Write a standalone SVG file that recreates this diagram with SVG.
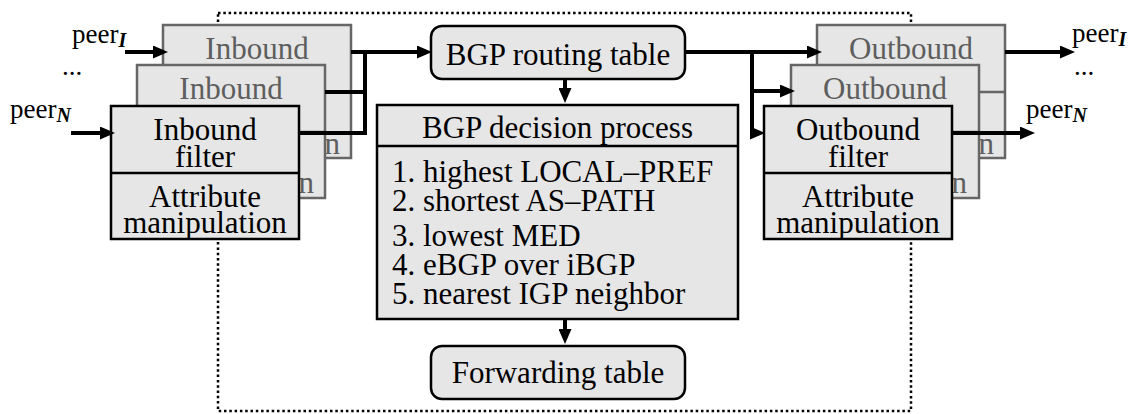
<svg xmlns="http://www.w3.org/2000/svg" width="1135" height="414" viewBox="0 0 1135 414">
<style>
.t{font-family:"Liberation Serif","Times New Roman",serif;font-size:31px;fill:#000}
.c{text-anchor:middle}
.e{text-anchor:end}
.g{fill:#5e5e5e}
.box{fill:#e6e6e6;stroke:#000;stroke-width:2.5}
.back{fill:#e6e6e6;stroke:#666;stroke-width:2.5}
.div{stroke:#000;stroke-width:2.5}
.divg{stroke:#666;stroke-width:2.5}
.conn{stroke:#000;stroke-width:4;fill:none}
.dot{stroke:#000;stroke-width:2.5;stroke-dasharray:2.5 2.8;fill:none}
.lbl{font-family:"Liberation Serif","Times New Roman",serif;font-size:27px;fill:#000}
.sub{font-size:20px;font-weight:bold;font-style:italic}
</style>
<defs>
<marker id="ah" markerUnits="userSpaceOnUse" markerWidth="15" markerHeight="13" refX="5" refY="6.5" orient="auto">
<path d="M0,0 L15,6.5 L0,13 z" fill="#000"/>
</marker>
</defs>
<rect class="dot" x="218" y="13" width="693" height="398"/>

<g id="in1">
<rect class="back" x="163" y="25" width="188" height="133"/>
<line class="divg" x1="163" y1="92" x2="351" y2="92"/>
<text class="t c g" x="257" y="59">Inbound</text>
<text class="t e g" x="340" y="154">n</text>
</g>
<g id="in2">
<rect class="back" x="137" y="65" width="188" height="133"/>
<line class="divg" x1="137" y1="132" x2="325" y2="132"/>
<text class="t c g" x="231" y="99">Inbound</text>
<text class="t e g" x="314" y="193">n</text>
</g>
<g id="in3">
<rect class="box" x="111" y="106" width="188" height="133"/>
<line class="div" x1="111" y1="173" x2="299" y2="173"/>
<text class="t c" x="205" y="140">Inbound</text>
<text class="t c" x="205" y="167">filter</text>
<text class="t c" x="205" y="207">Attribute</text>
<text class="t c" x="205" y="233">manipulation</text>
</g>

<g id="out1">
<rect class="back" x="817" y="25" width="188" height="133"/>
<line class="divg" x1="817" y1="92" x2="1005" y2="92"/>
<text class="t c g" x="911" y="59">Outbound</text>
<text class="t e g" x="994" y="154">n</text>
</g>
<g id="out2">
<rect class="back" x="791" y="65" width="188" height="133"/>
<line class="divg" x1="791" y1="132" x2="979" y2="132"/>
<text class="t c g" x="885" y="99">Outbound</text>
<text class="t e g" x="967" y="193">n</text>
</g>
<g id="out3">
<rect class="box" x="764" y="106" width="188" height="133"/>
<line class="div" x1="764" y1="173" x2="952" y2="173"/>
<text class="t c" x="858" y="140">Outbound</text>
<text class="t c" x="858" y="167">filter</text>
<text class="t c" x="858" y="207">Attribute</text>
<text class="t c" x="858" y="233">manipulation</text>
</g>

<g id="rib">
<rect class="box" x="431" y="26" width="254" height="53" rx="11"/>
<text class="t c" x="558" y="65">BGP routing table</text>
</g>
<g id="decision">
<rect class="box" x="377" y="105" width="361" height="214"/>
<line class="div" x1="377" y1="146" x2="738" y2="146"/>
<text class="t c" x="557.5" y="138">BGP decision process</text>
<text class="t" x="392" y="182">1. highest LOCAL–PREF</text>
<text class="t" x="392" y="211">2. shortest AS–PATH</text>
<text class="t" x="392" y="246">3. lowest MED</text>
<text class="t" x="392" y="275">4. eBGP over iBGP</text>
<text class="t" x="392" y="304">5. nearest IGP neighbor</text>
</g>
<g id="fib">
<rect class="box" x="431" y="346" width="254" height="53" rx="11"/>
<text class="t c" x="558" y="383">Forwarding table</text>
</g>

<g id="labels">
<text class="lbl" x="72" y="43">peer<tspan class="sub" dy="4">I</tspan></text>
<text class="lbl" x="62" y="75">...</text>
<text class="lbl" x="10" y="118">peer<tspan class="sub" dy="4">N</tspan></text>
<text class="lbl" x="1072" y="42">peer<tspan class="sub" dy="4">I</tspan></text>
<text class="lbl" x="1074" y="75">...</text>
<text class="lbl" x="1026" y="118">peer<tspan class="sub" dy="4">N</tspan></text>
</g>

<g id="connectors">
<path class="conn" d="M125,52 H158" marker-end="url(#ah)"/>
<path class="conn" d="M71,133 H105" marker-end="url(#ah)"/>
<path class="conn" d="M351,52 H422" marker-end="url(#ah)"/>
<path class="conn" d="M298,133 H365 V50"/>
<path class="conn" d="M325,92 H365"/>
<path class="conn" d="M685,52 H812" marker-end="url(#ah)"/>
<path class="conn" d="M752,50 V135"/>
<path class="conn" d="M752,91 H785" marker-end="url(#ah)"/>
<path class="conn" d="M752,133 H755" marker-end="url(#ah)"/>
<path class="conn" d="M565,79 V93" marker-end="url(#ah)"/>
<path class="conn" d="M565,319 V334" marker-end="url(#ah)"/>
<path class="conn" d="M1005,52 H1065" marker-end="url(#ah)"/>
<path class="conn" d="M952,133 H1025" marker-end="url(#ah)"/>
</g>
</svg>
